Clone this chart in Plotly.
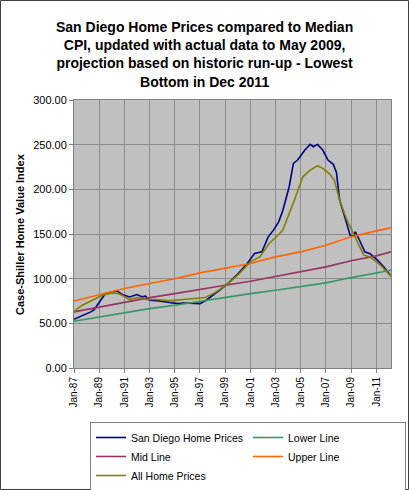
import plotly.graph_objects as go

# ---- data ----
sd_dates = ["1987-01","1987-09","1988-05","1988-08","1989-01","1989-07","1990-06","1990-11",
            "1991-06","1992-01","1992-06","1992-09","1993-01","1993-10","1994-08","1995-04",
            "1995-09","1996-06","1997-01","1997-07","1998-05","1998-09","1999-02","1999-12",
            "2000-10","2001-05","2001-12","2002-06","2002-11","2003-04","2003-08","2004-02",
            "2004-06","2004-10","2005-05","2005-10","2006-01","2006-05","2006-10","2007-03",
            "2007-08","2007-11","2008-02","2008-07","2008-12","2009-03","2009-05","2009-09",
            "2010-02","2010-07","2011-02","2011-08","2012-03"]
sd_values = [54.5,58.3,62.8,65.0,74.0,83.4,86.3,82.2,
             79.6,82.2,79.6,80.5,75.9,75.1,73.3,72.1,
             72.8,72.5,72.1,75.9,85.2,88.0,92.7,103.9,
             117.0,128.2,130.0,146.8,154.3,163.6,176.5,202.9,
             229.0,232.8,244.0,250.3,247.7,250.3,244.0,232.8,
             228.0,219.0,188.0,169.0,148.7,147.6,152.4,143.0,
             130.0,128.0,120.7,113.2,103.0]

all_dates = ["1987-01","1987-04","1987-09","1988-06","1989-04","1990-02","1990-07","1990-11",
             "1991-06","1992-01","1992-10","1993-07","1994-08","1995-09","1997-01","1997-06",
             "1998-02","1999-02","2000-01","2001-01","2001-10","2002-07","2003-05","2003-08",
             "2004-07","2005-03","2005-10","2006-05","2006-10","2007-04","2007-09","2008-02",
             "2008-09","2009-03","2009-08","2010-01","2010-07","2011-05","2012-03"]
all_values = [62.8,66.0,70.3,75.9,81.5,84.1,83.5,81.5,
              76.6,78.9,76.6,76.6,75.1,76.6,78.9,79.0,
              83.4,92.7,103.9,118.8,124.4,139.4,150.6,154.3,
              188.0,214.0,221.6,226.4,223.5,218.0,210.0,188.0,
              165.5,150.6,139.4,126.3,124.4,115.1,102.5]

line_dates = ["1987-01","1989-01","1991-01","1993-01","1995-01","1997-01","1999-01",
              "2001-01","2003-01","2005-01","2007-01","2009-01","2011-01","2012-03"]
lower_values = [52.3,57.2,62.0,66.5,70.2,74.7,78.4,83.3,87.0,90.8,95.3,101.2,106.5,109.5]
mid_values = [62.8,68.4,74.0,78.8,83.3,88.2,92.6,97.1,102.7,107.6,113.2,120.0,125.5,130.0]
upper_values = [75.0,82.2,89.0,94.5,100.0,106.5,112.0,117.0,124.4,130.0,137.5,146.8,153.5,156.9]

tick_dates = ["%d-01-01" % y for y in range(1987, 2012, 2)]
tick_labels = ["Jan-%02d" % (y % 100) for y in range(1987, 2012, 2)]
y_ticks = [0, 50, 100, 150, 200, 250, 300]

FONT = "Liberation Sans, Arial, sans-serif"

fig = go.Figure()
fig.add_trace(go.Scatter(x=sd_dates, y=sd_values, mode="lines", name="San Diego Home Prices",
                         line=dict(color="#000080", width=1.6)))
fig.add_trace(go.Scatter(x=line_dates, y=lower_values, mode="lines", name="Lower Line",
                         line=dict(color="#339966", width=1.6)))
fig.add_trace(go.Scatter(x=line_dates, y=mid_values, mode="lines", name="Mid Line",
                         line=dict(color="#993366", width=1.6)))
fig.add_trace(go.Scatter(x=line_dates, y=upper_values, mode="lines", name="Upper Line",
                         line=dict(color="#FF6600", width=1.6)))
fig.add_trace(go.Scatter(x=all_dates, y=all_values, mode="lines", name="All Home Prices",
                         line=dict(color="#808000", width=1.6)))

W, H = 409, 490
L, R, T, B = 74, 18, 100, 122
pw, ph = W - L - R, H - T - B
title_text = ("San Diego Home Prices compared to Median<br>CPI, updated with actual data to May 2009,"
              "<br>projection based on historic run-up - Lowest<br>Bottom in Dec 2011")

fig.update_layout(
    width=W, height=H,
    margin=dict(l=L, r=R, t=T, b=B),
    paper_bgcolor="white",
    plot_bgcolor="#C0C0C0",
    font=dict(family=FONT, size=11, color="#000000"),
    showlegend=True,
    legend=dict(
        orientation="h",
        xref="container", yref="container",
        x=90 / W, xanchor="left",
        y=1 - 422 / H, yanchor="top",
        bordercolor="#808080", borderwidth=1, bgcolor="white",
        font=dict(family=FONT, size=10.5, color="#000000"),
        entrywidth=112, entrywidthmode="pixels",
        itemwidth=30,
        tracegroupgap=0,
    ),
    xaxis=dict(
        type="date",
        range=["1987-01-01", "2012-03-01"],
        tickvals=tick_dates, ticktext=tick_labels,
        tickangle=-90,
        tickfont=dict(family=FONT, size=10, color="#000000"),
        showgrid=True, gridcolor="#8C8C8C", gridwidth=1,
        showline=True, linecolor="#808080", linewidth=1, mirror=True,
        ticks="outside", ticklen=4, tickcolor="#808080",
        zeroline=False,
    ),
    yaxis=dict(
        range=[0, 300],
        tickvals=y_ticks, ticktext=["%.2f" % v for v in y_ticks],
        tickfont=dict(family=FONT, size=11, color="#000000"),
        showgrid=True, gridcolor="#8C8C8C", gridwidth=1,
        showline=True, linecolor="#808080", linewidth=1, mirror=True,
        ticks="outside", ticklen=4, tickcolor="#808080",
        zeroline=False,
    ),
    annotations=[
        dict(
            text="<b>Case-Shiller Home Value Index</b>",
            textangle=-90, xref="paper", yref="paper",
            x=(20 - L) / pw, y=0.5, xanchor="center", yanchor="middle",
            showarrow=False, font=dict(family=FONT, size=11, color="#000000"),
        ),
        dict(
            text="<b>" + title_text + "</b>",
            xref="paper", yref="paper",
            x=(W / 2 - L) / pw, y=(T + ph - 16.5) / ph, xanchor="center", yanchor="top",
            showarrow=False, align="center",
            font=dict(family=FONT, size=14, color="#000000"),
        ),
    ],
    shapes=[dict(
        type="rect", xref="paper", yref="paper",
        x0=(0.5 - L) / pw, x1=(W - 0.5 - L) / pw,
        y0=-(H - 0.5 - (T + ph)) / ph, y1=(T + ph - 0.5) / ph,
        line=dict(color="#404040", width=1), layer="above",
    )],
)

fig.write_html("out.html")
